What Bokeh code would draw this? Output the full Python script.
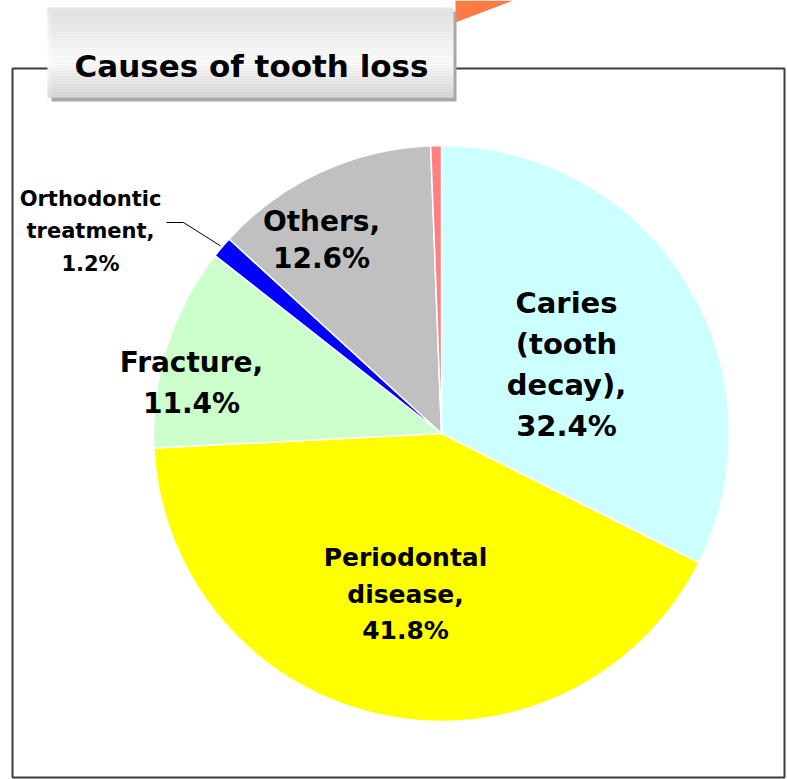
import math
from bokeh.plotting import figure
from bokeh.models import Range1d
from bokeh.core.properties import value
from bokeh.embed import file_html
from bokeh.resources import INLINE

# ---- data ----
categories = ["Caries (tooth decay)", "Periodontal disease", "Fracture",
              "Orthodontic treatment", "Others", "Unknown"]
shares = [32.4, 41.8, 11.4, 1.2, 12.6, 0.6]
label_words = [["Caries", "(tooth", "decay),"],
               ["Periodontal", "disease,"],
               ["Fracture,"],
               ["Orthodontic", "treatment,"],
               ["Others,"],
               None]
title_text = "Causes of tooth loss"

# ---- styles / layout ----
colors = ["#CCFFFF", "#FFFF00", "#CCFFCC", "#0000FF", "#C0C0C0", "#FF8080"]
W, H = 787, 779
CX, CY, R = 441, 433, 288          # pie centre / radius in pixels
FONT = value("DejaVu Sans")
# x centre, first baseline, line step, font size (pixels)
label_style = [(566, 302, 41, 29), (405, 557, 36.5, 25), (191, 362, 41, 28),
               (90, 198, 32.5, 21), (321, 221, 37, 28), None]


def Y(ypix):
    return H - ypix


p = figure(width=W, height=H, x_range=Range1d(0, W), y_range=Range1d(0, H),
           output_backend="svg", toolbar_location=None, min_border=0)
p.axis.visible = False
p.grid.visible = False
p.outline_line_color = None
p.background_fill_color = "white"

# orange decoration at top
p.patch([455, 455, 513], [Y(0), Y(22), Y(0)], fill_color="#FF7B45", line_color=None)

# frame
p.quad(left=[12], right=[784], top=[Y(68)], bottom=[Y(777)], fill_color=None,
       line_color="#3C3C3C", line_width=2)

# pie wedges (clockwise from 12 o'clock)
total = sum(shares)
cum = 0.0
starts, ends = [], []
for v in shares:
    a0 = math.pi / 2 - 2 * math.pi * (cum + v) / total
    a1 = math.pi / 2 - 2 * math.pi * cum / total
    starts.append(a0)
    ends.append(a1)
    cum += v
p.wedge(x=[CX] * len(shares), y=[Y(CY)] * len(shares), radius=R,
        start_angle=starts, end_angle=ends, fill_color=colors,
        line_color="white", line_width=1.5)

# labels
for i, words in enumerate(label_words):
    if words is None:
        continue
    x0, b0, step, fs = label_style[i]
    lines = words + [f"{shares[i]:.1f}%"]
    p.text(x=[x0] * len(lines), y=[Y(b0 + k * step) for k in range(len(lines))],
           text=lines, text_align="center", text_baseline="alphabetic",
           text_font=FONT, text_font_style="bold", text_font_size=f"{fs}px",
           text_color="black")

# leader line for Orthodontic treatment
oi = 3
mid = (starts[oi] + ends[oi]) / 2
ex = CX + (R + 2) * math.cos(mid)
ey = Y(CY) + (R + 2) * math.sin(mid)
p.line([166, 183, ex], [Y(222), Y(222), ey], line_color="black", line_width=1)

# title box: shadow + vertical gradient
p.quad(left=[51], right=[456], top=[Y(11)], bottom=[Y(101)],
       fill_color="#A8A8A8", line_color=None)
n = 45
bt, bb = 7, 97
ls, rs, ts, bs, cs = [], [], [], [], []
for k in range(n):
    t = (k + 0.5) / n
    if t < 0.6:
        g = 226 + (255 - 226) * (t / 0.6)
    else:
        g = 255 - (255 - 214) * ((t - 0.6) / 0.4)
    g = int(round(g))
    ls.append(47)
    rs.append(453)
    ts.append(Y(bt + (bb - bt) * k / n))
    bs.append(Y(bt + (bb - bt) * (k + 1) / n) - 0.3)
    cs.append("#%02x%02x%02x" % (g, g, g))
p.quad(left=ls, right=rs, top=ts, bottom=bs, fill_color=cs, line_color=None)
p.text(x=[251], y=[Y(65)], text=[title_text], text_align="center",
       text_baseline="alphabetic", text_font=FONT, text_font_style="bold",
       text_font_size="31px", text_color="black")

open("out.html", "w").write(file_html(p, INLINE))
